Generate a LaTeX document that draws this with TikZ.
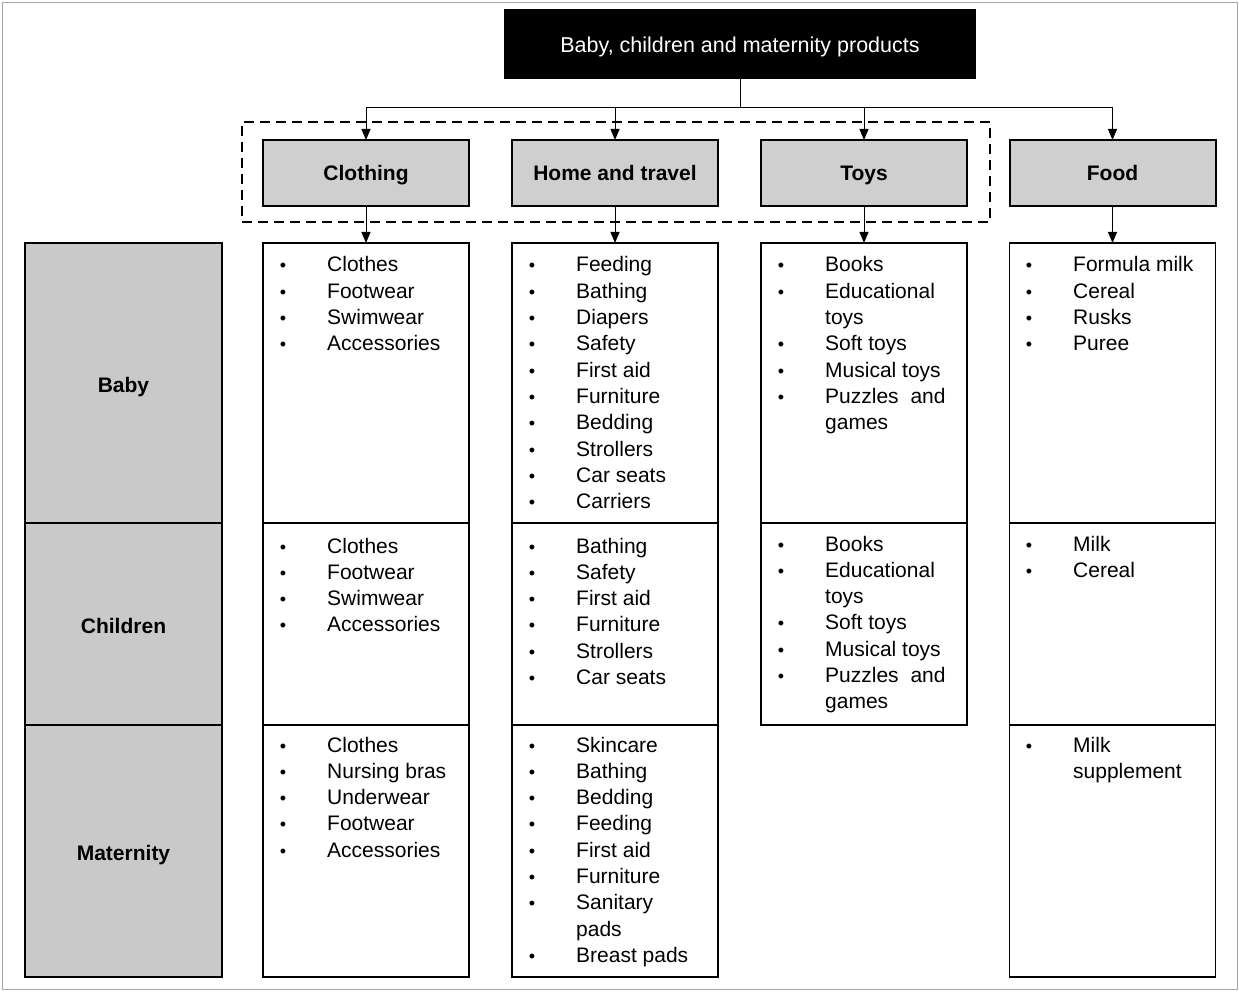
\documentclass[tikz,border=0pt]{standalone}
\usepackage{fontspec}
\setmainfont{Liberation Sans}
\usetikzlibrary{arrows.meta,calc}
\newcommand\myb{\textbullet}
\newcommand\items[4]{%
  \foreach \b/\t [count=\i from 0] in {#4} {
    \node[bul] (#1b\i) at (#2+20, #3+26.3*\i) {\b};
    \node[itm] (#1t\i) at (#2+64, #3+26.3*\i) {\t};
  }}
\begin{document}
\begin{tikzpicture}[x=1pt,y=-1pt,
  box/.style={draw=black, line width=1.6pt, rectangle, outer sep=0pt, inner sep=0pt},
  cat/.style={box, fill=gray!38, line width=2pt, minimum width=206pt, minimum height=66pt,
              text height=15pt, text depth=0pt,
              font=\fontsize{21}{25}\selectfont\bfseries},
  lab/.style={box, fill=gray!42, minimum width=197pt, text height=18pt, text depth=0pt,
              font=\fontsize{21}{25}\selectfont\bfseries},
  cont/.style={box, fill=white, minimum width=206pt},
  bul/.style={anchor=base, inner sep=0pt, font=\fontsize{18}{25}\selectfont},
  itm/.style={anchor=base west, inner sep=0pt, font=\fontsize{21}{25}\selectfont},
  conn/.style={draw=black, line width=1pt},
  arr/.style={conn, -{Triangle[length=11pt,width=9pt]}}
]
\useasboundingbox (0,0) rectangle (1239,992);
\draw[gray!70, line width=1pt] (2.5,2.5) rectangle (1237,989);

% top
\node[box, fill=black, text=white, minimum width=470pt, minimum height=68pt,
      text height=18pt, text depth=0pt,
      font=\fontsize{21.5}{25}\selectfont] (top) at (740,44) {Baby, children and maternity products};

% dashed group
\node[draw=black, line width=2pt, dash pattern=on 10pt off 6pt, minimum width=748pt,
      minimum height=100pt, inner sep=0pt] (grp) at (616,172) {};

% categories
\node[cat] (cloth) at (366,173) {Clothing};
\node[cat] (home) at (615,173) {Home and travel};
\node[cat] (toys) at (864,173) {Toys};
\node[cat] (food) at (1112.5,173) {Food};

\coordinate (hub) at (740,108);
\draw[conn] (top.south) -- (hub);
\draw[arr] (hub) -| (cloth.north);
\draw[arr] (hub) -| (home.north);
\draw[arr] (hub) -| (toys.north);
\draw[arr] (hub) -| (food.north);

% row labels
\node[lab, minimum height=280pt] (baby) at (123.5,383) {Baby};
\node[lab, minimum height=202pt] (child) at (123.5,624) {Children};
\node[lab, minimum height=252pt] (mat) at (123.5,851) {Maternity};

% content boxes
\node[cont, minimum height=280pt] (cB) at (366,383) {};
\node[cont, minimum height=202pt] (cC) at (366,624) {};
\node[cont, minimum height=252pt] (cM) at (366,851) {};
\node[cont, minimum height=280pt] (hB) at (615,383) {};
\node[cont, minimum height=202pt] (hC) at (615,624) {};
\node[cont, minimum height=252pt] (hM) at (615,851) {};
\node[cont, minimum height=280pt] (tB) at (864,383) {};
\node[cont, minimum height=202pt] (tC) at (864,624) {};
\node[cont, minimum height=280pt] (fB) at (1112.5,383) {};
\node[cont, minimum height=202pt] (fC) at (1112.5,624) {};
\node[cont, minimum height=252pt] (fM) at (1112.5,851) {};

\draw[arr] (cloth.south) -- (cB.north);
\draw[arr] (home.south) -- (hB.north);
\draw[arr] (toys.south) -- (tB.north);
\draw[arr] (food.south) -- (fB.north);

% items
\items{cb}{263}{272}{\myb/Clothes,\myb/Footwear,\myb/Swimwear,\myb/Accessories}
\items{hb}{512}{272}{\myb/Feeding,\myb/Bathing,\myb/Diapers,\myb/Safety,\myb/First aid,\myb/Furniture,\myb/Bedding,\myb/Strollers,\myb/Car seats,\myb/Carriers}
\items{tb}{761}{272}{\myb/Books,\myb/Educational,/toys,\myb/Soft toys,\myb/Musical toys,\myb/Puzzles\hspace{6pt} and,/games}
\items{fb}{1009}{272}{\myb/Formula milk,\myb/Cereal,\myb/Rusks,\myb/Puree}

\items{cc}{263}{553}{\myb/Clothes,\myb/Footwear,\myb/Swimwear,\myb/Accessories}
\items{hc}{512}{553}{\myb/Bathing,\myb/Safety,\myb/First aid,\myb/Furniture,\myb/Strollers,\myb/Car seats}
\items{tc}{761}{551}{\myb/Books,\myb/Educational,/toys,\myb/Soft toys,\myb/Musical toys,\myb/Puzzles\hspace{6pt} and,/games}
\items{fc}{1009}{551}{\myb/Milk,\myb/Cereal}

\items{cm}{263}{752}{\myb/Clothes,\myb/Nursing bras,\myb/Underwear,\myb/Footwear,\myb/Accessories}
\items{hm}{512}{752}{\myb/Skincare,\myb/Bathing,\myb/Bedding,\myb/Feeding,\myb/First aid,\myb/Furniture,\myb/Sanitary,/pads,\myb/Breast pads}
\items{fm}{1009}{752}{\myb/Milk,/supplement}
\end{tikzpicture}
\end{document}
